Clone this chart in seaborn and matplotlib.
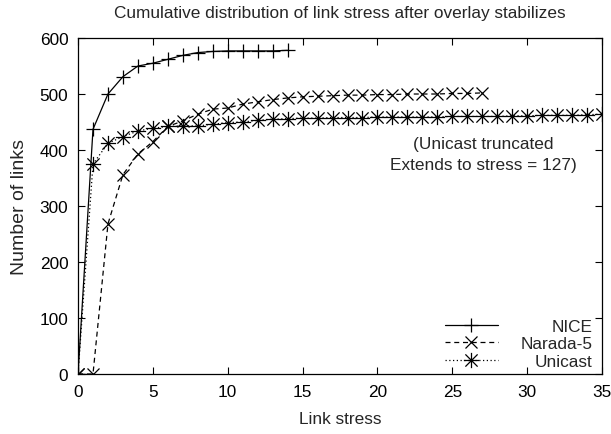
import numpy as np
import pandas as pd
import matplotlib
matplotlib.use("Agg")
import matplotlib.pyplot as plt
from matplotlib.path import Path
import seaborn as sns

# link stress values
nice_stress = list(range(0, 15))
nice_links = [0, 437, 500, 531, 550, 555, 562, 569, 574, 576, 577, 577, 577, 577, 578]

narada_stress = list(range(0, 28))
narada_links = [0, 0, 268, 356, 393, 415, 442, 452, 464, 473, 475, 482, 486, 490,
                493, 495, 496, 497, 498, 498, 499, 499, 500, 500, 500, 501, 501, 502]

unicast_stress = list(range(0, 36))
unicast_links = [0, 375, 412, 424, 434, 439, 442, 443, 443, 446, 449, 450, 453, 455,
                 456, 457, 457, 458, 458, 458, 459, 459, 459, 459, 459, 460, 460, 460,
                 460, 461, 461, 462, 462, 462, 463, 464]

x_ticks = [0, 5, 10, 15, 20, 25, 30, 35]
y_ticks = [0, 100, 200, 300, 400, 500, 600]

sns.set_style("ticks")
plt.rcParams['font.family'] = ['Liberation Sans', 'DejaVu Sans']
fs = 12.4

# gnuplot style star: + and x overlaid
star = Path([(-1, 0), (1, 0), (0, -1), (0, 1), (-0.8, -0.8), (0.8, 0.8), (-0.8, 0.8), (0.8, -0.8)],
            [Path.MOVETO, Path.LINETO] * 4)

fig = plt.figure(figsize=(6.11, 4.35), dpi=100)
ax = fig.add_axes([0.1277, 0.138, 0.8576, 0.7723])

common = dict(ax=ax, color='k', lw=0.9, markeredgecolor='k', markeredgewidth=0.9,
              sort=False, estimator=None)
sns.lineplot(x=nice_stress, y=nice_links, marker='+', markersize=10,
             linestyle='-', label='NICE', **common)
sns.lineplot(x=narada_stress, y=narada_links, marker='x', markersize=8,
             linestyle=(0, (4, 3)), label='Narada-5', **common)
sns.lineplot(x=unicast_stress, y=unicast_links, marker=star, markersize=11,
             linestyle=(0, (1, 2)), label='Unicast', **common)

ax.set_xlim(0, 35)
ax.set_ylim(0, 600)
ax.set_xticks(x_ticks)
ax.set_yticks(y_ticks)
ax.tick_params(direction='in', top=True, right=True, length=5, width=0.8,
               labelsize=fs, colors='k', pad=7)
for s in ax.spines.values():
    s.set_visible(True)
    s.set_color('k')
    s.set_linewidth(0.9)

ax.set_xlabel("Link stress", fontsize=fs, labelpad=9)
ax.set_ylabel("Number of links", fontsize=14, labelpad=8)
# title centred over the plot area, as gnuplot does
fig.text(340 / 611, 0.970, "Cumulative distribution of link stress after overlay stabilizes",
         ha='center', va='center', fontsize=fs)

ax.text(27.1, 393, "(Unicast truncated\nExtends to stress = 127)",
        ha='center', va='center', fontsize=fs, linespacing=1.45)

leg = ax.legend(loc='lower right', bbox_to_anchor=(0.995, -0.005), frameon=False,
                handlelength=3.1, handletextpad=1.3, labelspacing=0.13,
                borderaxespad=0.0, fontsize=fs)

# right-align legend texts like gnuplot
fig.canvas.draw()
renderer = fig.canvas.get_renderer()
texts = leg.get_texts()
widths = [t.get_window_extent(renderer).width for t in texts]
wmax = max(widths)
for t, w in zip(texts, widths):
    t.set_x(wmax - w)

fig.savefig("out.png", dpi=100)
